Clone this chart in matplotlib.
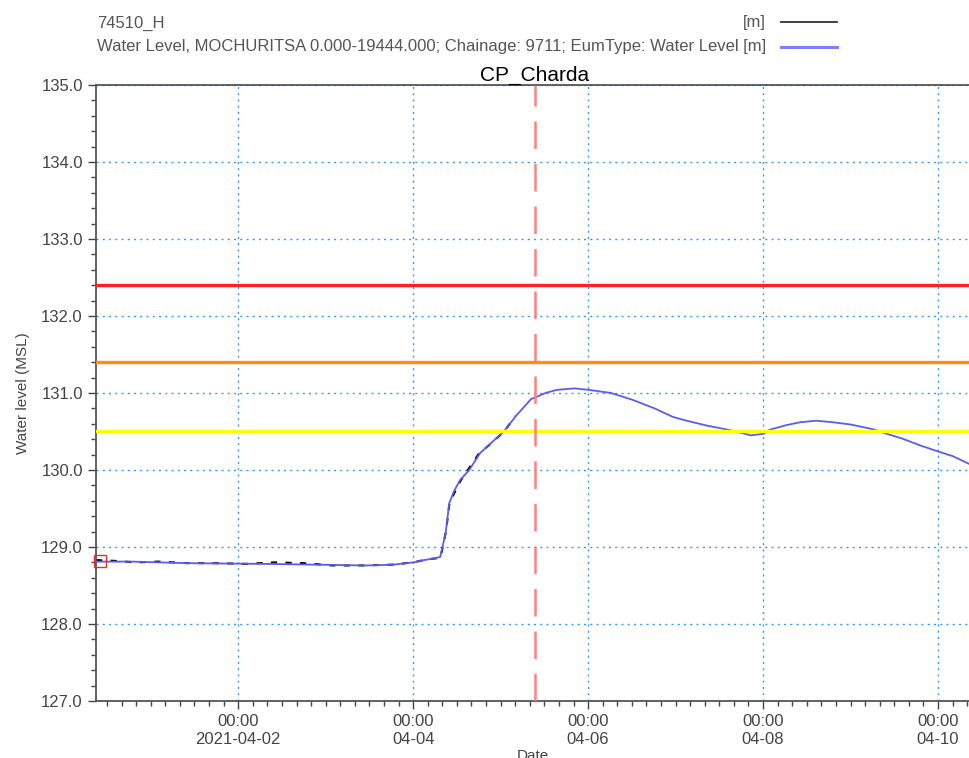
import pandas as pd
import matplotlib.pyplot as plt
import matplotlib.dates as mdates
from matplotlib.lines import Line2D
from matplotlib.ticker import MultipleLocator, FormatStrFormatter

plt.rcParams['font.family'] = ['Liberation Sans', 'DejaVu Sans']

# simulated water level (MIKE 11 result)
sim_time = ['2021-03-31 09:00', '2021-03-31 19:00', '2021-04-01 10:00', '2021-04-02 08:00',
            '2021-04-02 22:00', '2021-04-03 11:00', '2021-04-03 18:30', '2021-04-04 00:00',
            '2021-04-04 03:00', '2021-04-04 05:30', '2021-04-04 07:25', '2021-04-04 08:55',
            '2021-04-04 09:55', '2021-04-04 11:10', '2021-04-04 12:53', '2021-04-04 15:23',
            '2021-04-04 18:23', '2021-04-04 21:22', '2021-04-05 00:52', '2021-04-05 04:21',
            '2021-04-05 08:20', '2021-04-05 12:20', '2021-04-05 15:20', '2021-04-05 20:18',
            '2021-04-06 00:16', '2021-04-06 06:17', '2021-04-06 12:16', '2021-04-06 18:14',
            '2021-04-06 23:14', '2021-04-07 02:14', '2021-04-07 08:14', '2021-04-07 14:41',
            '2021-04-07 20:41', '2021-04-08 00:10', '2021-04-08 01:40', '2021-04-08 06:10',
            '2021-04-08 10:09', '2021-04-08 14:38', '2021-04-08 19:08', '2021-04-09 00:07',
            '2021-04-09 06:06', '2021-04-09 10:35', '2021-04-09 14:04', '2021-04-09 19:03',
            '2021-04-10 00:03', '2021-04-10 04:02', '2021-04-10 08:30']
sim_level = [128.81, 128.81, 128.79, 128.78, 128.77, 128.76, 128.77, 128.80,
             128.83, 128.85, 128.87, 129.18, 129.57, 129.72, 129.87, 130.00,
             130.22, 130.35, 130.50, 130.71, 130.92, 131.00, 131.04, 131.06,
             131.04, 131.00, 130.91, 130.80, 130.69, 130.65, 130.58, 130.52,
             130.45, 130.47, 130.52, 130.58, 130.62, 130.64, 130.62, 130.59,
             130.53, 130.46, 130.41, 130.32, 130.24, 130.18, 130.08]

# observed gauge 74510_H
obs_time = ['2021-03-31 09:00', '2021-03-31 14:00', '2021-03-31 20:00', '2021-04-01 02:00',
            '2021-04-01 10:00', '2021-04-01 18:00', '2021-04-02 02:00', '2021-04-02 10:00',
            '2021-04-02 18:00', '2021-04-03 02:00', '2021-04-03 10:00', '2021-04-03 18:00',
            '2021-04-04 00:00', '2021-04-04 04:00', '2021-04-04 07:30', '2021-04-04 09:00',
            '2021-04-04 10:00', '2021-04-04 13:00', '2021-04-04 18:00', '2021-04-04 21:00',
            '2021-04-05 01:00', '2021-04-05 04:00']
obs_level = [128.83, 128.82, 128.80, 128.81, 128.79, 128.79, 128.78, 128.80,
             128.79, 128.76, 128.76, 128.77, 128.80, 128.84, 128.86, 129.20,
             129.58, 129.86, 130.21, 130.33, 130.50, 130.70]

# warning levels
levels = [132.4, 131.4, 130.5]
level_colors = ['#ff2020', '#ff8c1a', '#ffff00']

now_time = '2021-04-05 09:20'
x_start = '2021-03-31 09:00'
x_end = '2021-04-10 08:30'

sim_t = pd.to_datetime(sim_time)
obs_t = pd.to_datetime(obs_time)

fig = plt.figure(figsize=(9.69, 7.58), dpi=100)
ax = fig.add_axes([0.0991, 0.0752, 0.9009, 0.8127])

ax.plot(obs_t, obs_level, color='black', lw=1.5, ls=(0, (3, 4)), zorder=2)
ax.plot(sim_t, sim_level, color='#5b5bf0', lw=1.3, zorder=3)
for lv, c in zip(levels, level_colors):
    ax.axhline(lv, color=c, lw=2.4, zorder=4)
ax.axvline(pd.Timestamp(now_time), color='#ff8080', lw=1.8, ls=(0, (11, 6)), zorder=5)
ax.plot([sim_t[0] + pd.Timedelta(hours=1)], [128.82], marker='s', ms=9, mfc='none',
        mec='#e03030', mew=1.0, clip_on=False, zorder=6)

ax.set_xlim(pd.Timestamp(x_start), pd.Timestamp(x_end))
ax.set_ylim(127, 135)
ax.yaxis.set_major_locator(MultipleLocator(1.0))
ax.yaxis.set_minor_locator(MultipleLocator(0.2))
ax.yaxis.set_major_formatter(FormatStrFormatter('%.1f'))
ax.xaxis.set_minor_locator(mdates.HourLocator(byhour=range(0, 24, 4)))
ticks = pd.to_datetime(['2021-04-02', '2021-04-04', '2021-04-06', '2021-04-08', '2021-04-10'])
ax.set_xticks(ticks)
ax.set_xticklabels(['00:00\n2021-04-02', '00:00\n04-04', '00:00\n04-06', '00:00\n04-08', '00:00\n04-10'])

ax.grid(True, which='major', color='#3399ff', ls=(0, (1.5, 3)), lw=1.0)
ax.tick_params(which='major', length=6, width=1, color='#444444', labelsize=12, labelcolor='#444444')
ax.tick_params(which='minor', length=3.5, width=1, color='#444444')
for s in ['left', 'bottom', 'top']:
    ax.spines[s].set_color('#555555')
    ax.spines[s].set_linewidth(1.3)
ax.spines['right'].set_visible(False)

ax.set_ylabel('Water level (MSL)', fontsize=11, color='#444444', labelpad=8)
ax.set_xlabel('Date', fontsize=11, color='#444444', labelpad=2)
ax.set_title('CP_Charda', fontsize=15, x=0.502, pad=2)

# legend drawn in figure coordinates
leg_font = 12
fig.text(97 / 969, 1 - 23 / 758, '74510_H', fontsize=leg_font, va='center', color='#555555')
fig.text(766 / 969, 1 - 23 / 758, '[m]', fontsize=leg_font, va='center', ha='right', color='#555555')
fig.text(97 / 969, 1 - 47 / 758,
         'Water Level, MOCHURITSA 0.000-19444.000; Chainage: 9711; EumType: Water Level [m]',
         fontsize=leg_font, va='center', color='#555555')
fig.add_artist(Line2D([781 / 969, 837 / 969], [1 - 22 / 758] * 2, color='#333333', lw=1.3))
fig.add_artist(Line2D([781 / 969, 837 / 969], [1 - 47 / 758] * 2, color='#8080ff', lw=2.2))

fig.savefig('out.png', dpi=100)
